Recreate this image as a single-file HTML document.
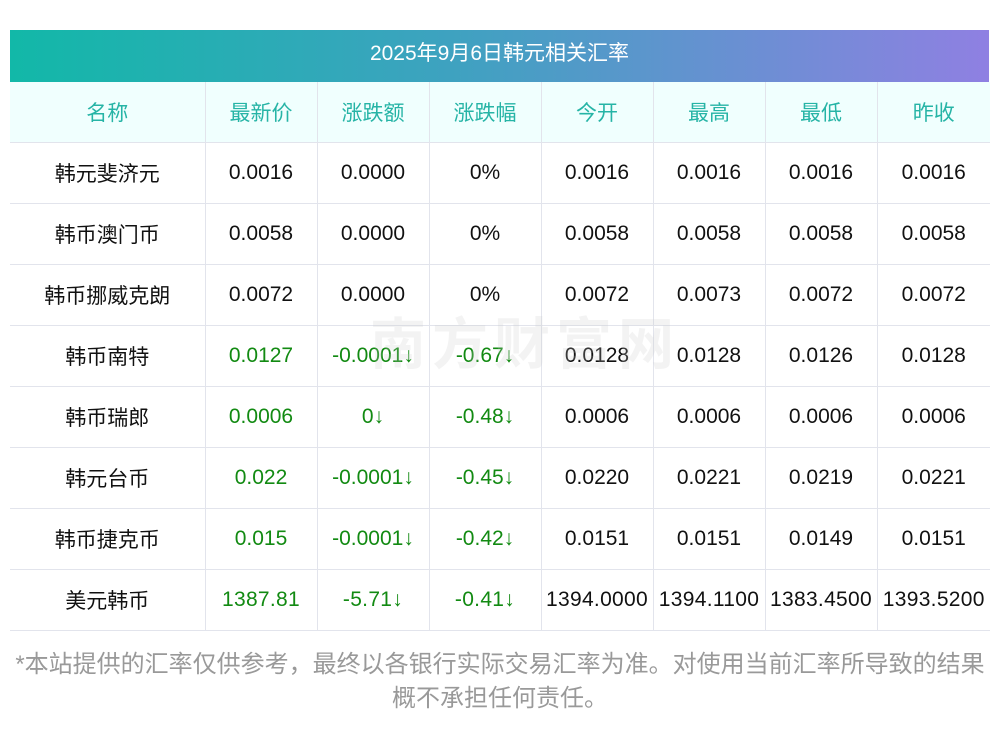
<!DOCTYPE html>
<html><head><meta charset="utf-8"><style>
body{margin:0;width:1000px;height:733px;background:#fff;font-family:"Liberation Sans","Noto Sans CJK SC",sans-serif;position:relative;overflow:hidden}
.title{position:absolute;left:10px;top:30px;width:979px;height:52px;background:linear-gradient(90deg,#12b8a8,#3ea2c0 45%,#8f80e2);color:#fff;font-size:21px;line-height:48px;text-align:center}
table{position:absolute;left:10px;top:82px;width:980px;border-collapse:collapse;table-layout:fixed}
td,th{border:1px solid #e2e4ec;height:60px;padding:0;text-align:center;font-size:21px;font-weight:normal;color:#111;white-space:nowrap;overflow:visible}
tr td:first-child,tr th:first-child{border-left:none}
tr td:last-child,tr th:last-child{border-right:none}
th{background:#f0fffe;color:#26b4a6;border-top:none;font-size:21px}
.g{color:#128a12}
.c{display:inline-block;font-size:21px;letter-spacing:0.3px;margin:0 -4px}
.foot{position:absolute;left:0;top:648px;width:1000px;text-align:center;color:#999;font-size:24px;line-height:34px;white-space:nowrap}
.wm{position:absolute;left:370px;top:300px;font-size:56px;color:rgba(200,200,200,0.22);font-weight:bold;letter-spacing:6px}
</style></head><body>
<div class="title">2025年9月6日韩元相关汇率</div>
<table>
<colgroup><col style="width:195px"><col style="width:112px"><col style="width:112px"><col style="width:112px"><col style="width:112px"><col style="width:112px"><col style="width:112px"><col style="width:113px"></colgroup>
<tr><th>名称</th><th>最新价</th><th>涨跌额</th><th>涨跌幅</th><th>今开</th><th>最高</th><th>最低</th><th>昨收</th></tr>
<tr><td>韩元斐济元</td><td>0.0016</td><td>0.0000</td><td>0%</td><td>0.0016</td><td>0.0016</td><td>0.0016</td><td>0.0016</td></tr>
<tr><td>韩币澳门币</td><td>0.0058</td><td>0.0000</td><td>0%</td><td>0.0058</td><td>0.0058</td><td>0.0058</td><td>0.0058</td></tr>
<tr><td>韩币挪威克朗</td><td>0.0072</td><td>0.0000</td><td>0%</td><td>0.0072</td><td>0.0073</td><td>0.0072</td><td>0.0072</td></tr>
<tr><td>韩币南特</td><td class="g">0.0127</td><td class="g">-0.0001↓</td><td class="g">-0.67↓</td><td>0.0128</td><td>0.0128</td><td>0.0126</td><td>0.0128</td></tr>
<tr><td>韩币瑞郎</td><td class="g">0.0006</td><td class="g">0↓</td><td class="g">-0.48↓</td><td>0.0006</td><td>0.0006</td><td>0.0006</td><td>0.0006</td></tr>
<tr><td>韩元台币</td><td class="g">0.022</td><td class="g">-0.0001↓</td><td class="g">-0.45↓</td><td>0.0220</td><td>0.0221</td><td>0.0219</td><td>0.0221</td></tr>
<tr><td>韩币捷克币</td><td class="g">0.015</td><td class="g">-0.0001↓</td><td class="g">-0.42↓</td><td>0.0151</td><td>0.0151</td><td>0.0149</td><td>0.0151</td></tr>
<tr><td>美元韩币</td><td class="g"><span class="c">1387.81</span></td><td class="g"><span class="c">-5.71↓</span></td><td class="g"><span class="c">-0.41↓</span></td><td><span class="c">1394.0000</span></td><td><span class="c">1394.1100</span></td><td><span class="c">1383.4500</span></td><td><span class="c">1393.5200</span></td></tr>
</table>
<div class="wm">南方财富网</div>
<div class="foot">*本站提供的汇率仅供参考，最终以各银行实际交易汇率为准。对使用当前汇率所导致的结果<br>概不承担任何责任。</div>
</body></html>
